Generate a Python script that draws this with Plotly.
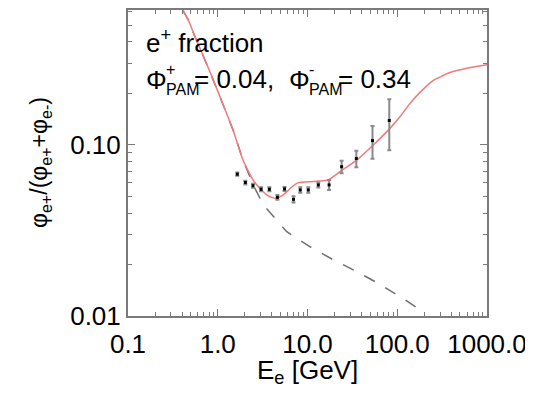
import plotly.graph_objects as go

# PAMELA positron fraction data points
E_data = [1.65, 2.03, 2.47, 3.04, 3.76, 4.62, 5.55, 6.98, 8.3, 10.2, 13.2, 17.4, 24.0, 35.0, 53.0, 81.5]
frac = [0.0675, 0.0603, 0.0578, 0.0551, 0.0551, 0.0494, 0.0553, 0.0481, 0.0546, 0.0546, 0.0584, 0.0584, 0.0746, 0.0833, 0.106, 0.139]
frac_err = [0.0015, 0.0015, 0.0015, 0.0015, 0.0015, 0.0015, 0.0015, 0.0020, 0.0020, 0.0020, 0.0020, 0.0039, 0.0063, 0.0093, 0.023, 0.046]

# model with extra source (red)
E_model = [0.407, 0.470, 0.558, 0.668, 0.820, 1.06, 1.48, 1.91, 2.47, 3.0, 3.51, 4.0, 4.54, 5.2, 5.87, 6.8, 7.90, 10.7,
           13.5, 17.0, 23.0, 35.3, 54.1, 83.0, 107, 139, 179, 250, 387, 594, 1000]
F_model = [0.615, 0.538, 0.429, 0.345, 0.267, 0.191, 0.1225, 0.0816, 0.0624, 0.0553, 0.0511, 0.0494, 0.0488, 0.0505, 0.0533,
           0.0572, 0.0602, 0.0610, 0.0615, 0.0624, 0.0698, 0.0816, 0.100, 0.125, 0.146, 0.175, 0.203, 0.238, 0.265, 0.281, 0.294]

# secondary-only background (dashed)
E_bg = [0.407, 0.470, 0.558, 0.668, 0.820, 1.06, 1.48, 1.91, 2.5, 3.22, 5.87, 10.7, 19.4, 35.3, 61.5, 107, 187, 205]
F_bg = [0.615, 0.538, 0.429, 0.345, 0.267, 0.191, 0.1225, 0.0816, 0.058, 0.0446, 0.0311, 0.0254, 0.0213,
        0.0182, 0.0155, 0.0130, 0.0108, 0.0104]

x_tickvals = [0.1, 1, 10, 100, 1000]
x_ticktext = ["0.1", "1.0", "10.0", "100.0", "1000.0"]
y_tickvals = [0.01, 0.1]
y_ticktext = ["0.01", "0.10"]

FONT = "Liberation Sans, Arial, sans-serif"
AX = "#7a7a7a"

# page offset from the default body margin of the html page
OFF = 8
# plot area in page pixels
L, R, T, B = 128, 487, 10, 316
W_PX, H_PX = R - L, B - T
FIG_W, FIG_H = 533 - OFF, 394 - OFF


def px(xp):
    return (xp - L) / W_PX


def py(yp):
    return (B - yp) / H_PX


fig = go.Figure()
fig.add_trace(go.Scatter(x=E_bg, y=F_bg, mode="lines",
                         line=dict(color="#707070", width=1.5, dash="12px,12px"), showlegend=False))
fig.add_trace(go.Scatter(x=E_model, y=F_model, mode="lines", line_shape="spline",
                         line=dict(color="#f07a7a", width=1.5, smoothing=0.5), showlegend=False))
fig.add_trace(go.Scatter(x=E_data, y=frac, mode="markers",
                         marker=dict(color="black", size=3, symbol="square"),
                         error_y=dict(type="data", array=frac_err, color="#8a8a8a", thickness=2, width=2),
                         showlegend=False))

axis_common = dict(type="log", showgrid=False, zeroline=False, showline=True, linecolor=AX, linewidth=2,
                   mirror="allticks", ticks="inside", ticklen=7, tickcolor=AX, tickwidth=1, automargin=False,
                   tickfont=dict(family=FONT, size=26, color="black"),
                   minor=dict(ticks="inside", ticklen=4, tickcolor=AX, dtick="D1"))

fig.update_xaxes(range=[-1, 3], tickvals=x_tickvals, ticktext=x_ticktext, ticklabelstandoff=4, **axis_common)
fig.update_yaxes(range=[-2, -0.211], tickvals=y_tickvals, ticktext=y_ticktext, **axis_common)

# axis titles
fig.add_annotation(xref="paper", yref="paper", x=px(307), y=py(371), xanchor="center", yanchor="middle",
                   text="E<sub>e</sub> [GeV]", showarrow=False, font=dict(family=FONT, size=26, color="black"))
fig.add_annotation(xref="paper", yref="paper", x=px(40), y=py(163), xanchor="center", yanchor="middle",
                   textangle=-90, text="φ<sub>e+</sub>/(φ<sub>e+</sub>+φ<sub>e-</sub>)", showarrow=False,
                   font=dict(family=FONT, size=23, color="black"))


# in-plot labels
def label(text, x, y, size):
    fig.add_annotation(xref="paper", yref="paper", x=px(x), y=py(y), xanchor="left", yanchor="middle",
                       text=text, showarrow=False, borderpad=0, font=dict(family=FONT, size=size, color="black"))


label("e<sup>+</sup> fraction", 145, 42, 26)
label("Φ", 145, 80, 26)
label("+", 165, 70, 16)
label("PAM", 165, 90, 16)
label("= 0.04,", 193, 79, 26)
label("Φ", 288, 80, 26)
label("-", 308, 70, 16)
label("PAM", 308, 90, 16)
label("= 0.34", 337, 79, 26)

fig.update_layout(width=FIG_W, height=FIG_H,
                  margin=dict(l=L - OFF, r=FIG_W - (R - OFF), t=T - OFF, b=FIG_H - (B - OFF)),
                  paper_bgcolor="white", plot_bgcolor="white", showlegend=False)

fig.write_html("out.html")
